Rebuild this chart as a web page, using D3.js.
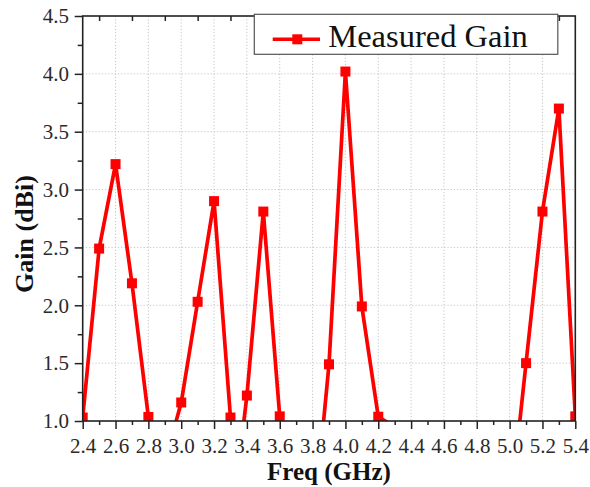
<!DOCTYPE html>
<html>
<head>
<meta charset="utf-8">
<script src="https://cdn.jsdelivr.net/npm/d3@7"></script>
<style>
  html, body { margin: 0; padding: 0; background: #fff; }
  svg { display: block; }
  text { font-family: "Liberation Serif", "Times New Roman", serif; }
</style>
</head>
<body>
<svg id="chart" width="590" height="487"></svg>
<script>
// Measured gain vs frequency; points below 1.0 dBi fall outside the axis range.
const freqGHz = [2.4, 2.5, 2.6, 2.7, 2.8, 2.9, 3.0, 3.1, 3.2, 3.3, 3.35, 3.4, 3.5, 3.6, 3.8, 3.9, 4.0, 4.1, 4.2, 4.3, 5.0, 5.1, 5.2, 5.3, 5.4];
const gainDBi = [1.03, 2.49, 3.22, 2.19, 1.035, 0.64, 1.16, 2.03, 2.90, 1.03, 0.62, 1.22, 2.81, 1.04, 0.0, 1.49, 4.02, 1.99, 1.037, 0.95, 0.18, 1.50, 2.81, 3.70, 1.04];

const xMajorTicks = [2.4, 2.6, 2.8, 3.0, 3.2, 3.4, 3.6, 3.8, 4.0, 4.2, 4.4, 4.6, 4.8, 5.0, 5.2, 5.4];
const xMinorTicks = [2.5, 2.7, 2.9, 3.1, 3.3, 3.5, 3.7, 3.9, 4.1, 4.3, 4.5, 4.7, 4.9, 5.1, 5.3];
const yMajorTicks = [1.0, 1.5, 2.0, 2.5, 3.0, 3.5, 4.0, 4.5];
const yMinorTicks = [1.25, 1.75, 2.25, 2.75, 3.25, 3.75, 4.25];

const seriesName = "Measured Gain";
const xTitle = "Freq (GHz)";
const yTitle = "Gain (dBi)";

const serif = '"Liberation Serif", "Times New Roman", serif';
const plotLeft = 82.7, plotRight = 575.3, plotTop = 16, plotBottom = 421;

const svg = d3.select("#chart");

const x = d3.scaleLinear().domain([2.4, 5.4]).range([plotLeft, plotRight]);
const y = d3.scaleLinear().domain([1.0, 4.5]).range([plotBottom, plotTop]);

// clip region for the data
svg.append("defs").append("clipPath").attr("id", "plotClip")
  .append("rect")
  .attr("x", plotLeft).attr("y", plotTop)
  .attr("width", plotRight - plotLeft).attr("height", plotBottom - plotTop);

// dotted grid at major ticks
const grid = svg.append("g").attr("stroke", "#c4c4c4").attr("stroke-width", 1).attr("stroke-dasharray", "1.2,2");
grid.selectAll("line.vx").data(xMajorTicks.slice(1, -1)).join("line")
  .attr("class", "vx")
  .attr("x1", d => x(d)).attr("x2", d => x(d))
  .attr("y1", plotTop).attr("y2", plotBottom);
grid.selectAll("line.hy").data(yMajorTicks.slice(1, -1)).join("line")
  .attr("class", "hy")
  .attr("x1", plotLeft).attr("x2", plotRight)
  .attr("y1", d => y(d)).attr("y2", d => y(d));

// data line and square markers
const data = freqGHz.map((f, i) => ({ f, g: gainDBi[i] }));
const plot = svg.append("g").attr("clip-path", "url(#plotClip)");
plot.append("path")
  .datum(data)
  .attr("fill", "none")
  .attr("stroke", "#ff0000")
  .attr("stroke-width", 3.7)
  .attr("stroke-linejoin", "miter")
  .attr("d", d3.line().x(d => x(d.f)).y(d => y(d.g)));
const ms = 10;
plot.selectAll("rect.mk").data(data).join("rect")
  .attr("class", "mk")
  .attr("x", d => x(d.f) - ms / 2)
  .attr("y", d => y(d.g) - ms / 2)
  .attr("width", ms).attr("height", ms)
  .attr("fill", "#ff0000");

// axes
const axisColor = "#222";
function styleAxis(g) {
  g.attr("font-family", serif);
  g.select(".domain").remove();
  g.selectAll(".tick line").attr("stroke", axisColor).attr("stroke-width", 1.5);
  g.selectAll(".tick text")
    .attr("fill", "#2a2a2a")
    .style("font-family", serif)
    .style("font-size", "21px");
}

svg.append("g")
  .attr("transform", `translate(0,${plotBottom})`)
  .call(d3.axisBottom(x).tickValues(xMajorTicks).tickSize(8).tickPadding(8.8).tickFormat(d3.format(".1f")))
  .call(styleAxis);
svg.append("g")
  .attr("transform", `translate(0,${plotBottom})`)
  .call(d3.axisBottom(x).tickValues(xMinorTicks).tickSize(4).tickFormat(""))
  .call(styleAxis);

svg.append("g")
  .attr("transform", `translate(${plotLeft},0)`)
  .call(d3.axisLeft(y).tickValues(yMajorTicks).tickSize(8).tickPadding(5.7).tickFormat(d3.format(".1f")))
  .call(styleAxis);
svg.append("g")
  .attr("transform", `translate(${plotLeft},0)`)
  .call(d3.axisLeft(y).tickValues(yMinorTicks).tickSize(5).tickFormat(""))
  .call(styleAxis);

// top axis: short inward ticks at the minor positions
svg.append("g")
  .attr("transform", `translate(0,${plotTop})`)
  .call(d3.axisTop(x).tickValues(xMinorTicks).tickSize(-5).tickFormat(""))
  .call(styleAxis);

// frame
svg.append("rect")
  .attr("x", plotLeft).attr("y", plotTop)
  .attr("width", plotRight - plotLeft).attr("height", plotBottom - plotTop)
  .attr("fill", "none")
  .attr("stroke", axisColor)
  .attr("stroke-width", 1.6);

// axis titles
svg.append("text")
  .attr("x", 329).attr("y", 480)
  .attr("text-anchor", "middle")
  .attr("font-weight", "bold")
  .attr("font-size", 25)
  .attr("fill", "#111")
  .text(xTitle);
svg.append("text")
  .attr("transform", "translate(32.5,234) rotate(-90)")
  .attr("text-anchor", "middle")
  .attr("font-weight", "bold")
  .attr("font-size", 26)
  .attr("fill", "#111")
  .text(yTitle);

// legend
const lg = svg.append("g");
lg.append("rect")
  .attr("x", 254.3).attr("y", 14.3)
  .attr("width", 303.5).attr("height", 40)
  .attr("fill", "#fff")
  .attr("stroke", "#555")
  .attr("stroke-width", 1.2);
lg.append("line")
  .attr("x1", 272.7).attr("x2", 320)
  .attr("y1", 39.3).attr("y2", 39.3)
  .attr("stroke", "#ff0000").attr("stroke-width", 3.5);
lg.append("rect")
  .attr("x", 297.3 - ms / 2).attr("y", 39.3 - ms / 2)
  .attr("width", ms).attr("height", ms)
  .attr("fill", "#ff0000");
lg.append("text")
  .attr("x", 328.3).attr("y", 46.7)
  .attr("font-size", 32.5)
  .attr("fill", "#111")
  .text(seriesName);
</script>
</body>
</html>
